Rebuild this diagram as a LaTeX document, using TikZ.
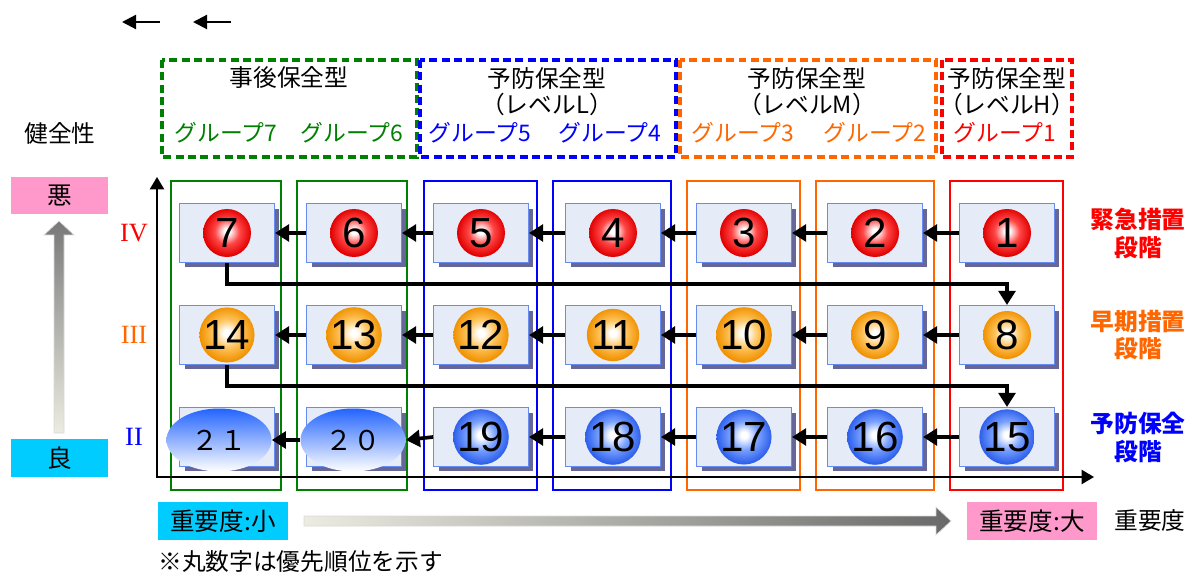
\documentclass[tikz,border=0pt]{standalone}
\usepackage{fontspec}
\setmainfont{Noto Sans CJK JP}
\newfontfamily\numfont{Liberation Sans}
\newfontfamily\romfont{Liberation Serif}
\usetikzlibrary{shapes.geometric, arrows.meta, positioning, shadows}

\definecolor{grpgreen}{RGB}{0,128,0}
\definecolor{grpblue}{RGB}{0,0,255}
\definecolor{grporange}{RGB}{255,102,0}
\definecolor{grpred}{RGB}{255,0,0}
\definecolor{boxfill}{RGB}{230,236,247}
\definecolor{boxline}{RGB}{102,140,240}
\definecolor{boxshadow}{RGB}{102,102,153}
\definecolor{badpink}{RGB}{255,153,204}
\definecolor{goodcyan}{RGB}{0,204,255}
\definecolor{cloudblue}{RGB}{35,100,255}
\definecolor{barlight}{RGB}{236,236,226}
\definecolor{bardark}{RGB}{105,105,105}

\pgfdeclareradialshading{redball}{\pgfpoint{0bp}{2bp}}{color(0bp)=(white); color(3bp)=(white); color(13bp)=(rgb,255:red,255;green,70;blue,70); color(25bp)=(rgb,255:red,225;green,0;blue,0); color(50bp)=(rgb,255:red,225;green,0;blue,0)}
\pgfdeclareradialshading{orangeball}{\pgfpoint{0bp}{2bp}}{color(0bp)=(white); color(3bp)=(white); color(13bp)=(rgb,255:red,255;green,195;blue,90); color(25bp)=(rgb,255:red,240;green,145;blue,0); color(50bp)=(rgb,255:red,240;green,145;blue,0)}
\pgfdeclareradialshading{blueball}{\pgfpoint{0bp}{2bp}}{color(0bp)=(white); color(3bp)=(white); color(13bp)=(rgb,255:red,120;green,160;blue,255); color(25bp)=(rgb,255:red,45;green,95;blue,235); color(50bp)=(rgb,255:red,45;green,95;blue,235)}

\begin{document}
\begin{tikzpicture}[
    x=0.02cm, y=-0.02cm,
    stage/.style={rectangle, draw=boxline, line width=0.6pt, fill=boxfill, minimum width=1.9cm, minimum height=1.18cm, drop shadow={shadow xshift=0.1cm, shadow yshift=-0.1cm, fill=boxshadow, opacity=1}},
    ball/.style={circle, inner sep=0pt, minimum size=0.96cm, font=\numfont\fontsize{24}{24}\selectfont},
    cloud/.style={ellipse, inner sep=0pt, minimum width=2.1cm, minimum height=1.26cm, top color=cloudblue, bottom color=white, font=\fontsize{15.5}{16}\selectfont},
    flow/.style={-{Triangle[length=8pt, width=9.5pt]}, line width=2.1pt},
    colframe/.style={line width=0.9pt},
    hdrbox/.style={line width=1.9pt, dash pattern=on 4.5pt off 2.5pt},
    title/.style={font=\fontsize{13.5}{16}\selectfont},
    grplbl/.style={font=\fontsize{13}{16}\selectfont},
    level/.style={font=\romfont\fontsize{15}{15}\selectfont},
    stagelbl/.style={align=center, font=\bfseries\fontsize{13.5}{15.9}\selectfont},
    tag/.style={minimum width=2.6cm, minimum height=0.76cm, inner sep=0pt, font=\fontsize{14}{16}\selectfont}
]
\useasboundingbox (0,0) rectangle (1194,574);

% arrows at top left
\coordinate (la1) at (160,22);
\coordinate (lb1) at (122,22);
\coordinate (la2) at (231,22);
\coordinate (lb2) at (193,22);
\draw[-{Triangle[length=8pt, width=8pt]}, line width=1.2pt] (la1) -- (lb1);
\draw[-{Triangle[length=8pt, width=8pt]}, line width=1.2pt] (la2) -- (lb2);

% group headers
\draw[hdrbox, grpgreen] (162,60) rectangle (417,157);
\draw[hdrbox, grpblue] (420,60) rectangle (676,157);
\draw[hdrbox, grporange] (680,60) rectangle (936,157);
\draw[hdrbox, grpred] (942,60) rectangle (1072,157);

\node[title] (t7) at (289,78) {事後保全型};
\node[title] (t5) at (547,78) {予防保全型};
\node[title] (l5) at (547,104) {（レベルL）};
\node[title] (t3) at (807,78) {予防保全型};
\node[title] (l3) at (807,104) {（レベルM）};
\node[title] (t1) at (1007,78) {予防保全型};
\node[title] (l1) at (1007,104) {（レベルH）};

\node[grplbl, text=grpgreen] (g7) at (226,133) {グループ7};
\node[grplbl, text=grpgreen] (g6) at (352,133) {グループ6};
\node[grplbl, text=grpblue] (g5) at (480,133) {グループ5};
\node[grplbl, text=grpblue] (g4) at (610,133) {グループ4};
\node[grplbl, text=grporange] (g3) at (743,133) {グループ3};
\node[grplbl, text=grporange] (g2) at (875,133) {グループ2};
\node[grplbl, text=grpred] (g1) at (1005,133) {グループ1};

% column frames
\draw[colframe, grpgreen] (171,181) rectangle (281,490);
\draw[colframe, grpgreen] (297,181) rectangle (407,490);
\draw[colframe, grpblue] (424,181) rectangle (537,490);
\draw[colframe, grpblue] (553,181) rectangle (671,490);
\draw[colframe, grporange] (687,181) rectangle (800,490);
\draw[colframe, grporange] (816,181) rectangle (934,490);
\draw[colframe, grpred] (950,181) rectangle (1063,490);

% axes
\coordinate (ytop) at (157,177);
\coordinate (origin) at (157,477);
\coordinate (xend) at (1094,477);
\draw[{Triangle[length=7pt, width=8pt]}-{Triangle[length=7pt, width=8pt]}, line width=1.1pt] (ytop) -- (origin) -- (xend);

% soundness scale
\node[title] (health) at (60,133) {健全性};
\node[tag, fill=badpink, minimum width=1.94cm, minimum height=0.74cm] (bad) at (59.5,195.5) {悪};
\node[tag, fill=goodcyan, minimum width=1.94cm, minimum height=0.76cm] (good) at (59.5,458) {良};
\shade[top color=bardark!90, bottom color=barlight, draw=black!15, line width=0.4pt]
  (54,433) -- (64,433) -- (64,235) -- (74,235) -- (59,221) -- (44,235) -- (54,235) -- cycle;

\node[level, text=grpred] (r4) at (134,233) {IV};
\node[level, text=grporange] (r3) at (134,335) {III};
\node[level, text=grpblue] (r2) at (134,437) {II};

% stage boxes
\foreach \row/\y/\bs in {0/233/redball, 1/335/orangeball, 2/437/blueball}
  \foreach \col/\x in {1/1007, 2/875, 3/744, 4/613, 5/481, 6/354, 7/227} {
    \pgfmathtruncatemacro{\n}{\row*7+\col}
    \node[stage] (b\n) at (\x,\y) {};
    \ifnum\n<20 \node[ball, shading=\bs] (c\n) at (b\n) {\n}; \fi
  }
\node[cloud] (e21) at (219,440) {２１};
\node[cloud] (e20) at (353,440) {２０};

% priority order
\foreach \row in {0,1,2}
  \foreach \col in {1,...,6} {
    \pgfmathtruncatemacro{\n}{\row*7+\col}
    \pgfmathtruncatemacro{\m}{\n+1}
    \ifnum\n<19 \draw[flow] (b\n.west) -- (b\m.east); \fi
  }
\draw[flow] (b19.west) -- (e20.east);
\draw[flow] (e20.west) -- (e21.east);
\draw[flow] (b7.south) -- ++(0,21) -| (b8.north);
\draw[flow] (b14.south) -- ++(0,21) -| (b15.north);

% stage labels
\node[stagelbl, text=grpred] (s4) at (1138,233) {緊急措置\\段階};
\node[stagelbl, text=grporange] (s3) at (1138,335) {早期措置\\段階};
\node[stagelbl, text=grpblue] (s2) at (1138,437) {予防保全\\段階};

% importance scale
\node[tag, fill=goodcyan] (low) at (223,521) {重要度:小};
\node[tag, fill=badpink] (high) at (1032,521) {重要度:大};
\node[title] (imp) at (1150,521) {重要度};
\shade[left color=barlight, right color=bardark, draw=black!15, line width=0.4pt]
  (304,516) -- (936,516) -- (936,507) -- (951,521) -- (936,535) -- (936,526) -- (304,526) -- cycle;
\node[title, anchor=west, inner sep=0pt] (note) at (158,562) {※丸数字は優先順位を示す};

\end{tikzpicture}
\end{document}
